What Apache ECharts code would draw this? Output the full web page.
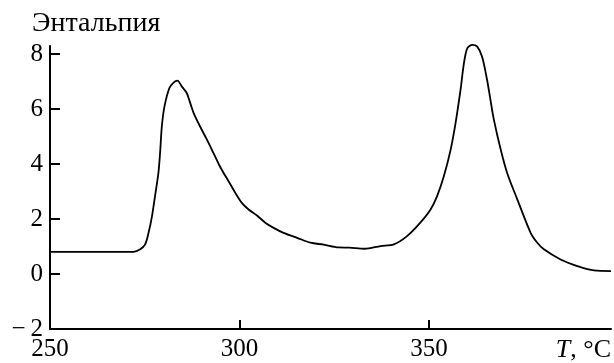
<!DOCTYPE html>
<html>
<head>
<meta charset="utf-8">
<script src="https://cdn.jsdelivr.net/npm/echarts@6/dist/echarts.min.js"></script>
<style>html,body{margin:0;padding:0;background:#fff}#c{width:614px;height:363px}</style>
</head>
<body>
<div id="c"></div>
<script>
var temperature = [250,260,272,273.8,275.1,276,276.9,277.7,278.6,279.1,279.5,280.2,281.5,282.6,283.6,284.8,286.1,287,287.9,289.6,291.4,293.1,294.7,295.8,297.1,298.9,300.6,302.4,304.6,306.8,309,311.6,315.2,318.7,322.2,326.1,329,333,337.2,340.7,344.2,347.7,350.4,352.1,353.9,355.7,357,358.3,359.2,360.1,361.4,362.7,364,365.3,366.2,367.1,368.9,370.6,373.3,376.8,378.5,380.3,384.7,389.1,393.5,398];
var enthalpy = [0.81,0.81,0.81,0.9,1.08,1.5,2.1,2.83,3.68,4.53,5.37,6.1,6.77,6.97,7.04,6.82,6.58,6.22,5.86,5.37,4.89,4.41,3.95,3.68,3.38,2.95,2.59,2.35,2.13,1.87,1.68,1.5,1.32,1.14,1.07,0.97,0.96,0.92,1.02,1.08,1.38,1.87,2.35,2.83,3.56,4.53,5.5,6.7,7.67,8.22,8.34,8.28,7.91,7.07,6.34,5.62,4.53,3.68,2.71,1.5,1.15,0.9,0.53,0.29,0.13,0.11];
var xTicks = [250,300,350];
var yTicks = [-2,0,2,4,6,8];
var yTitle = 'Энтальпия';

var pts = temperature.map(function(t,i){return [t, enthalpy[i]];});
var font = '"Liberation Serif", "Times New Roman", serif';
var chart = echarts.init(document.getElementById('c'));
chart.setOption({
  animation: false,
  title: {text: yTitle, left: 27, top: 5, textStyle: {fontFamily: font, fontSize: 28, fontWeight: 'normal', color: '#000'}},
  grid: {left: 50, right: 3, top: 46, bottom: 33},
  xAxis: {
    type: 'value', min: 250, max: 398, interval: 50,
    name: '{i|T}, °C', nameLocation: 'end', nameGap: 0,
    nameTextStyle: {fontFamily: font, fontSize: 26, color: '#000', align: 'right', verticalAlign: 'top', padding: [8,0,0,0],
      rich: {i: {fontFamily: font, fontSize: 26, fontStyle: 'italic', color: '#000'}}},
    axisLine: {onZero: false, lineStyle: {color: '#000', width: 2}},
    axisTick: {inside: true, length: 9, lineStyle: {color: '#000', width: 2}, customValues: xTicks},
    axisLabel: {fontFamily: font, fontSize: 25, color: '#000', margin: 8, customValues: xTicks},
    splitLine: {show: false}
  },
  yAxis: {
    type: 'value', min: -2, max: 8.3, interval: 2,
    axisLine: {show: true, onZero: false, lineStyle: {color: '#000', width: 2}},
    axisTick: {show: true, inside: true, length: 10, lineStyle: {color: '#000', width: 2}, customValues: yTicks},
    axisLabel: {fontFamily: font, fontSize: 25, color: '#000', margin: 7, customValues: yTicks,
      formatter: function(v){return v < 0 ? '\u2212\u2009' + Math.abs(v) : String(v);}},
    splitLine: {show: false}
  },
  series: [{
    type: 'line', data: pts, showSymbol: false, smooth: 0.3,
    lineStyle: {color: '#000', width: 1.8}, clip: false
  }]
});
</script>
</body>
</html>
